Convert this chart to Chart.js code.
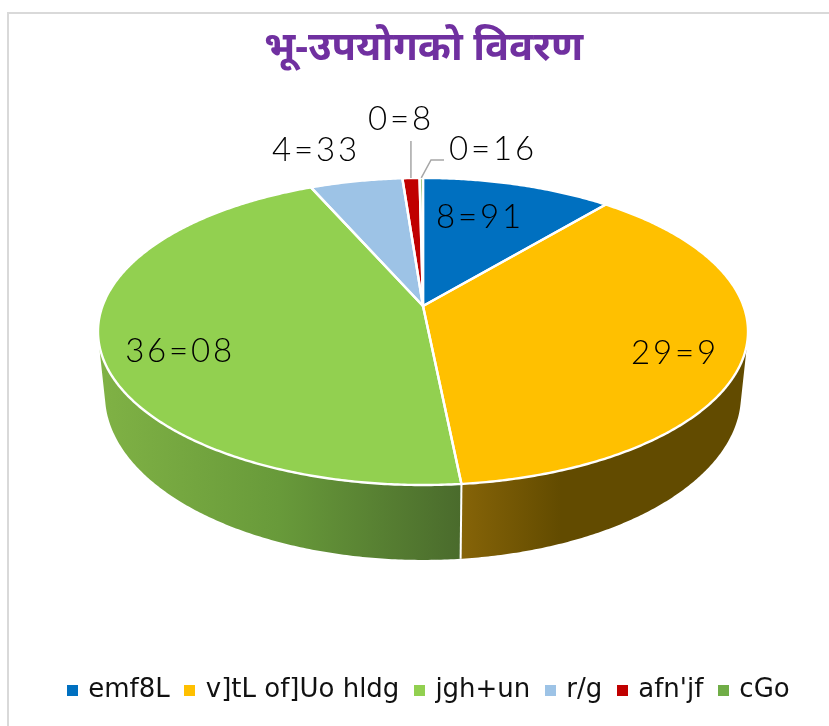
<!DOCTYPE html>
<html><head><meta charset="utf-8">
<script src="https://cdn.jsdelivr.net/npm/chart.js@4"></script>
<style>
html,body{margin:0;padding:0;background:#fff;width:829px;height:726px;overflow:hidden}
#frame{position:absolute;left:7px;top:12px;right:-5px;bottom:-5px;border-left:2px solid #d9d9d9;border-top:2px solid #d9d9d9}
#wrap{position:absolute;left:0;top:0;width:829px;height:726px}
</style></head><body>
<div id="frame"></div>
<div id="wrap"><canvas id="c" width="829" height="726"></canvas></div>
<script>
const titleText = 'भू-उपयोगको विवरण';
const categories = ['emf8L', 'v]tL of]Uo hldg', 'jgh+un', 'r/g', "afn'jf", 'cGo'];
const values = [8.91, 29.9, 36.08, 4.33, 0.8, 0.16];
const colors = ['#0070C0', '#FFC000', '#92D050', '#9DC3E6', '#C00000', '#70AD47'];
const wallRanges = [[423,606],[461,748],[98,461],[310,403],[403,419],[419,423]];
const wallStops = [
  [[0,'#00406e'],[1,'#00406e']],
  [[0,'#866408'],[0.35,'#624b00'],[1,'#624b00']],
  [[0,'#80b245'],[0.5,'#689a3a'],[1,'#4a6b2c']],
  [[0,'#5a7a98'],[1,'#5a7a98']],
  [[0,'#700000'],[1,'#700000']],
  [[0,'#40652a'],[1,'#40652a']]
];
const labelAnchors = [[480,217],[675,353],[180,351],[316,150],[401,119],[493,149]];

const K = 0.166;
const topRim = {x0:423, y0:306, A:320.5, B:149.3};
const botRim = {x0:423, y0:367.6, A:313.6, B:160.4};
function proj(r, t){ // t: angle clockwise from 12 o'clock
  const u = Math.sin(t), v = Math.cos(t), w = 1 + K*v;
  return [r.x0 + r.A*u/w, r.y0 - r.B*v/w];
}
function legendSwatch(color){
  const c = document.createElement('canvas'); c.width = 11; c.height = 11;
  const x = c.getContext('2d'); x.fillStyle = color; x.fillRect(0,0,11,11);
  return c;
}
const pie3d = {
  id:'pie3d',
  afterLayout(chart){ chart.titleBlock.left = 18; },
  beforeDatasetsDraw(chart){
    const ctx = chart.ctx, arcs = chart.getDatasetMeta(0).data;
    const ang = arcs.map(a => [a.startAngle + Math.PI/2, a.endAngle + Math.PI/2]);
    const step = Math.PI/360;
    ctx.save();
    ang.forEach(([a,b], i) => {
      const grad = ctx.createLinearGradient(wallRanges[i][0],0,wallRanges[i][1],0);
      wallStops[i].forEach(s => grad.addColorStop(s[0], s[1]));
      ctx.fillStyle = grad;
      ctx.beginPath();
      for(let t=a; t<b; t+=step){
        const e = Math.min(t+step,b);
        let q = [proj(topRim,t), proj(topRim,e), proj(botRim,e), proj(botRim,t)];
        let area = 0;
        q.forEach((p,n) => { const m = q[(n+1)%4]; area += p[0]*m[1]-m[0]*p[1]; });
        if(area < 0) q = q.reverse();
        ctx.moveTo(...q[0]); ctx.lineTo(...q[1]); ctx.lineTo(...q[2]); ctx.lineTo(...q[3]); ctx.closePath();
      }
      ctx.fill('nonzero');
    });
    ctx.strokeStyle='#fff'; ctx.lineWidth=2;
    ang.forEach(([a]) => {
      ctx.beginPath(); ctx.moveTo(...proj(topRim,a)); ctx.lineTo(...proj(botRim,a)); ctx.stroke();
    });
    ctx.lineJoin='round';
    const wedge = (a,b) => {
      ctx.beginPath(); ctx.moveTo(topRim.x0, topRim.y0);
      for(let t=a; t<b; t+=step) ctx.lineTo(...proj(topRim,t));
      ctx.lineTo(...proj(topRim,b)); ctx.closePath();
    };
    ang.forEach(([a,b], i) => { wedge(a,b); ctx.fillStyle=colors[i]; ctx.fill(); });
    ang.forEach(([a,b]) => { wedge(a,b); ctx.strokeStyle='#fff'; ctx.lineWidth=2.4; ctx.stroke(); });
    ctx.strokeStyle='#a6a6a6'; ctx.lineWidth=1.5; ctx.lineJoin='miter';
    const mid = i => (ang[i][0]+ang[i][1])/2;
    let p = proj(topRim,mid(4));
    ctx.beginPath(); ctx.moveTo(p[0],141); ctx.lineTo(p[0],p[1]); ctx.stroke();
    p = proj(topRim,mid(5));
    ctx.beginPath(); ctx.moveTo(444,160); ctx.lineTo(431,160); ctx.lineTo(p[0],p[1]); ctx.stroke();
    ctx.fillStyle='#000'; ctx.font='300 33px Lato'; ctx.textAlign='center'; ctx.textBaseline='middle';
    ctx.letterSpacing='2.8px';
    values.forEach((v,i) => ctx.fillText(String(v).replace('.','='), labelAnchors[i][0], labelAnchors[i][1]));
    ctx.letterSpacing='0px';
    ctx.restore();
    return false;
  }
};
new Chart(document.getElementById('c'), {
  type:'pie',
  data:{labels:categories, datasets:[{data:values, backgroundColor:colors, borderColor:'#fff', borderWidth:2}]},
  plugins:[pie3d],
  options:{
    responsive:false, animation:false,
    layout:{padding:{top:25,bottom:13,left:30,right:0}},
    plugins:{
      tooltip:{enabled:false},
      title:{display:true, text:titleText, color:'#7030A0', align:'center',
        font:{family:'"Noto Sans","Noto Sans Devanagari","DejaVu Sans",sans-serif', size:40, weight:'bold'}, padding:{top:0,bottom:0}},
      legend:{position:'bottom', labels:{boxWidth:6, boxHeight:11, padding:17, color:'#111', usePointStyle:true,
        font:{family:'"DejaVu Sans"', size:26},
        generateLabels(chart){
          return categories.map((t,i) => ({text:t, fillStyle:colors[i], strokeStyle:colors[i], lineWidth:0,
            pointStyle:legendSwatch(colors[i]), hidden:false, index:i, fontColor:'#111'}));
        }}}
    }
  }
});
</script>
</body></html>
